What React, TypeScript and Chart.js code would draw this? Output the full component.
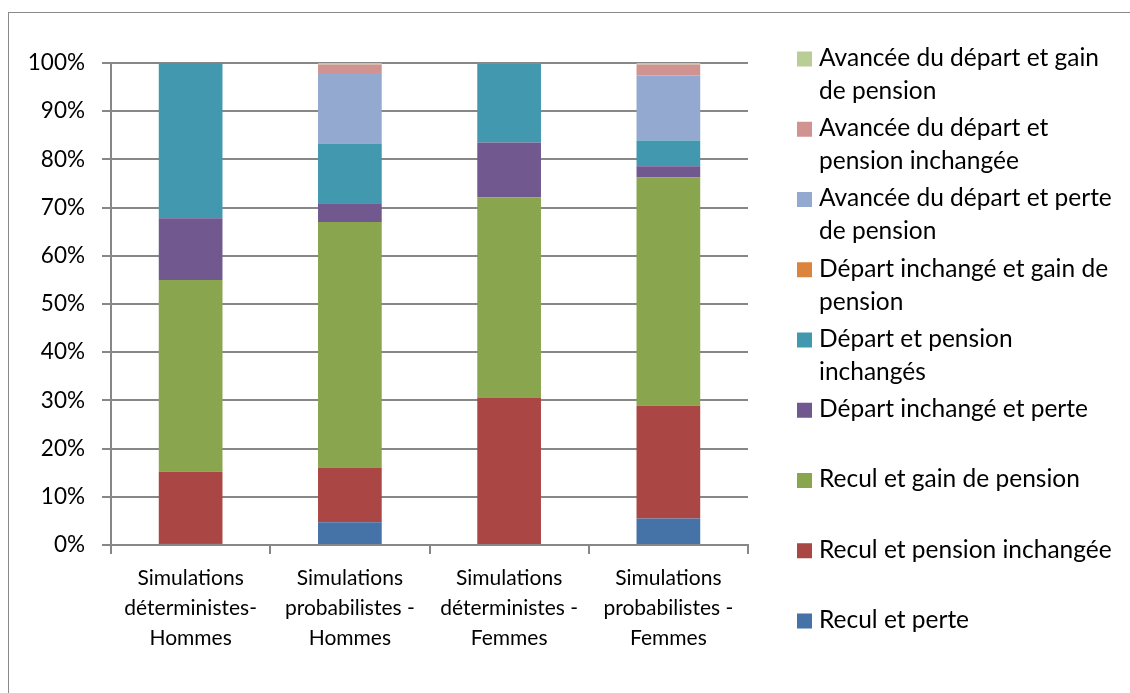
import React, { useEffect, useRef } from "react";
import { Chart, registerables } from "chart.js";

Chart.register(...registerables);

const categories: string[][] = [
  ["Simulations", "déterministes-", "Hommes"],
  ["Simulations", "probabilistes -", "Hommes"],
  ["Simulations", "déterministes -", "Femmes"],
  ["Simulations", "probabilistes -", "Femmes"],
];

const seriesNames: string[] = [
  "Recul et perte",
  "Recul et pension inchangée",
  "Recul et gain de pension",
  "Départ inchangé et perte",
  "Départ et pension inchangés",
  "Départ inchangé et gain de pension",
  "Avancée du départ et perte de pension",
  "Avancée du départ et pension inchangée",
  "Avancée du départ et gain de pension",
];

const legendLines: string[][] = [
  ["Recul et perte"],
  ["Recul et pension inchangée"],
  ["Recul et gain de pension"],
  ["Départ inchangé et perte"],
  ["Départ et pension", "inchangés"],
  ["Départ inchangé et gain de", "pension"],
  ["Avancée du départ et perte", "de pension"],
  ["Avancée du départ et", "pension inchangée"],
  ["Avancée du départ et gain", "de pension"],
];

const reculPerte = [0.4, 4.7, 0.2, 5.5];
const reculInchangee = [14.8, 11.4, 30.4, 23.4];
const reculGain = [39.8, 50.9, 41.5, 47.4];
const departPerte = [12.8, 3.9, 11.4, 2.3];
const departInchanges = [32.2, 12.4, 16.4, 5.3];
const departGain = [0, 0, 0, 0];
const avanceePerte = [0, 14.6, 0, 13.5];
const avanceeInchangee = [0, 1.8, 0.1, 2.3];
const avanceeGain = [0, 0.3, 0, 0.3];

const seriesValues: number[][] = [
  reculPerte,
  reculInchangee,
  reculGain,
  departPerte,
  departInchanges,
  departGain,
  avanceePerte,
  avanceeInchangee,
  avanceeGain,
];

const seriesColors: string[] = [
  "#4572A7",
  "#AA4643",
  "#89A54E",
  "#71588F",
  "#4198AF",
  "#DB843D",
  "#93A9CF",
  "#D19392",
  "#B9CD96",
];

const yTicks = [0, 10, 20, 30, 40, 50, 60, 70, 80, 90, 100];

const GRID = "#878787";

const legendPlugin = {
  id: "customLegend",
  afterDraw(chart: any) {
    const ctx = chart.ctx;
    ctx.save();
    ctx.font = "24.5px Lato";
    ctx.fillStyle = "#000";
    ctx.textBaseline = "middle";
    ctx.textAlign = "left";
    const n = chart.data.datasets.length;
    for (let k = 0; k < n; k++) {
      const i = n - 1 - k;
      const cy = 59 + k * 70.25;
      ctx.fillStyle = chart.data.datasets[i].backgroundColor;
      ctx.fillRect(797, cy - 7.5, 15, 15);
      ctx.fillStyle = "#000";
      legendLines[i].forEach((line, j) => {
        ctx.fillText(line, 819, cy - 1 + j * 33);
      });
    }
    ctx.restore();
  },
};

export default function App() {
  const ref = useRef<HTMLCanvasElement | null>(null);
  useEffect(() => {
    if (!ref.current) return;
    const chart = new Chart(ref.current, {
      type: "bar",
      data: {
        labels: categories,
        datasets: seriesNames.map((name, i) => ({
          label: name,
          data: seriesValues[i],
          backgroundColor: seriesColors[i],
          borderWidth: 0,
          barPercentage: 0.4,
          categoryPercentage: 1,
        })),
      },
      options: {
        responsive: false,
        animation: false,
        devicePixelRatio: 1,
        layout: { padding: { left: 0, right: 382, top: 63, bottom: 0 } },
        plugins: {
          legend: { display: false },
          tooltip: { enabled: false },
        },
        scales: {
          x: {
            stacked: true,
            afterFit: (scale: any) => {
              scale.height = 148;
            },
            grid: {
              drawOnChartArea: false,
              drawTicks: true,
              tickLength: 9,
              color: GRID,
              lineWidth: 2,
              offset: true,
            },
            border: { display: true, color: GRID, width: 2 },
            ticks: {
              color: "#000",
              padding: 9,
              maxRotation: 0,
              autoSkip: false,
              font: { family: "Lato", size: 21, lineHeight: 1.43 },
            },
          },
          y: {
            stacked: true,
            min: 0,
            max: 100,
            afterFit: (scale: any) => {
              scale.width = 111;
            },
            afterBuildTicks: (scale: any) => {
              scale.ticks = yTicks.map((v) => ({ value: v }));
            },
            grid: {
              drawTicks: true,
              tickLength: 9,
              color: GRID,
              lineWidth: 2,
            },
            border: { display: true, color: GRID, width: 2 },
            ticks: {
              color: "#000",
              padding: 17,
              font: { family: "Lato", size: 22.5 },
              callback: (v: any) => v + "%",
            },
          },
        },
      },
      plugins: [legendPlugin],
    });
    return () => chart.destroy();
  }, []);

  return (
    <div
      style={{
        position: "fixed",
        left: 0,
        top: 0,
        width: 1130,
        height: 693,
        overflow: "hidden",
        background: "#fff",
      }}
    >
      <div
        style={{
          position: "absolute",
          left: 8,
          top: 12,
          width: 2000,
          height: 2000,
          borderLeft: "1px solid #8a8a8a",
          borderTop: "1px solid #8a8a8a",
        }}
      />
      <canvas
        ref={ref}
        width={1130}
        height={693}
        style={{ position: "absolute", left: 0, top: 0 }}
      />
    </div>
  );
}
